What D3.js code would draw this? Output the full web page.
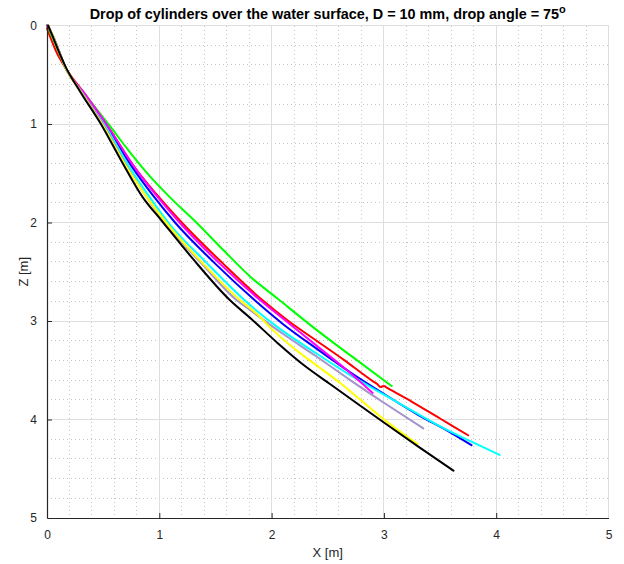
<!DOCTYPE html>
<html>
<head>
<meta charset="utf-8">
<script src="https://cdn.jsdelivr.net/npm/d3@7"></script>
<style>
  html, body { margin: 0; padding: 0; background: #fff; }
  svg { display: block; font-family: "Liberation Sans", Arial, sans-serif; }
</style>
</head>
<body>
<svg id="chart" width="624" height="564"></svg>
<script>
// Trajectories of dropped cylinders: horizontal drift X [m] vs depth Z [m]
const xTicks = [0, 1, 2, 3, 4, 5];
const zTicks = [0, 1, 2, 3, 4, 5];

const red = [[0,0.03],[0.03,0.12],[0.08,0.26],[0.17,0.44],[0.34,0.7],[0.54,1.02],[0.78,1.44],[0.98,1.72],[1.20,2.0],[1.57,2.42],[1.92,2.79],[2.15,3.0],[2.4,3.2],[2.65,3.4],[2.9,3.61],[2.94,3.64],[2.97,3.67],[3.0,3.66],[3.03,3.68],[3.25,3.82],[3.5,3.99],[3.75,4.16]];
const blue = [[0,0],[0.05,0.1],[0.17,0.44],[0.33,0.7],[0.53,1.02],[0.76,1.44],[0.94,1.72],[1.14,2.0],[1.5,2.42],[1.85,2.79],[2.1,3.03],[2.4,3.28],[2.7,3.52],[3.0,3.74],[3.3,3.95],[3.59,4.13],[3.78,4.26]];
const cyan = [[0,0],[0.05,0.1],[0.17,0.44],[0.33,0.7],[0.52,1.02],[0.74,1.45],[0.9,1.72],[1.08,2.0],[1.43,2.42],[1.76,2.79],[2.05,3.06],[2.4,3.33],[2.7,3.55],[2.99,3.74],[3.25,3.91],[3.5,4.07],[3.77,4.22],[4.03,4.36]];
const green = [[0,0],[0.04,0.1],[0.1,0.26],[0.17,0.44],[0.36,0.73],[0.56,1.02],[0.72,1.26],[0.87,1.47],[1.1,1.75],[1.33,2.0],[1.57,2.28],[1.81,2.55],[2.05,2.77],[2.4,3.09],[2.75,3.39],[3.07,3.66]];
const magenta = [[0,0],[0.05,0.1],[0.17,0.44],[0.34,0.7],[0.54,1.02],[0.78,1.44],[0.97,1.72],[1.18,2.0],[1.55,2.43],[1.90,2.79],[2.15,3.02],[2.4,3.25],[2.65,3.48],[2.90,3.73]];
const purple = [[0.01,0],[0.05,0.1],[0.17,0.44],[0.32,0.69],[0.51,1.02],[0.72,1.45],[0.88,1.73],[1.05,2.0],[1.38,2.42],[1.69,2.79],[1.81,2.89],[2.1,3.13],[2.4,3.36],[2.7,3.6],[3.0,3.83],[3.35,4.09]];
const yellow = [[0.01,0],[0.05,0.1],[0.17,0.44],[0.31,0.69],[0.5,1.02],[0.72,1.46],[0.88,1.73],[1.06,2.0],[1.4,2.43],[1.72,2.79],[1.87,2.93],[2.0,3.08],[2.2,3.28],[2.4,3.45],[2.6,3.62],[2.79,3.8],[2.99,3.99],[3.3,4.25]];
const black = [[0.01,0],[0.04,0.08],[0.1,0.25],[0.17,0.43],[0.3,0.68],[0.48,1.0],[0.66,1.37],[0.85,1.74],[1.02,1.98],[1.3,2.37],[1.63,2.79],[1.82,2.98],[2.05,3.22],[2.3,3.46],[2.52,3.64],[2.79,3.86],[3.0,4.03],[3.3,4.27],[3.62,4.52]];

const series = [
  { data: red, color: "#ff0000" },
  { data: blue, color: "#0000ff" },
  { data: cyan, color: "#00ffff" },
  { data: green, color: "#00ff00" },
  { data: magenta, color: "#ff00ff" },
  { data: purple, color: "#a593cc" },
  { data: yellow, color: "#ffff00" },
  { data: black, color: "#000000" }
];

const W = 624, H = 564;
const margin = { left: 47, right: 15.5, top: 25.5, bottom: 46 };
const iw = W - margin.left - margin.right;
const ih = H - margin.top - margin.bottom;

const svg = d3.select("#chart");
svg.append("rect").attr("width", W).attr("height", H).attr("fill", "#fff");

const g = svg.append("g").attr("transform", `translate(${margin.left},${margin.top})`);

const x = d3.scaleLinear().domain([0, 5]).range([0, iw]);
const z = d3.scaleLinear().domain([0, 5]).range([0, ih]);

// minor grid (dotted)
const minor = d3.range(0, 5.0001, 0.2).filter(v => Math.abs(v - Math.round(v)) > 1e-6);
g.append("g").selectAll("line").data(minor).join("line")
  .attr("x1", d => x(d)).attr("x2", d => x(d)).attr("y1", 0).attr("y2", ih)
  .attr("stroke", "#c4c4c4").attr("stroke-width", 1).attr("stroke-dasharray", "1,3")
  .attr("shape-rendering", "crispEdges");
g.append("g").selectAll("line").data(minor).join("line")
  .attr("y1", d => z(d)).attr("y2", d => z(d)).attr("x1", 0).attr("x2", iw)
  .attr("stroke", "#c4c4c4").attr("stroke-width", 1).attr("stroke-dasharray", "1,3")
  .attr("shape-rendering", "crispEdges");

// major grid
g.append("g").selectAll("line").data(xTicks).join("line")
  .attr("x1", d => x(d)).attr("x2", d => x(d)).attr("y1", 0).attr("y2", ih)
  .attr("stroke", "#dedede").attr("stroke-width", 1).attr("shape-rendering", "crispEdges");
g.append("g").selectAll("line").data(zTicks).join("line")
  .attr("y1", d => z(d)).attr("y2", d => z(d)).attr("x1", 0).attr("x2", iw)
  .attr("stroke", "#dedede").attr("stroke-width", 1).attr("shape-rendering", "crispEdges");

// trajectories
const line = d3.line().x(d => x(d[0])).y(d => z(d[1])).curve(d3.curveMonotoneX);
g.append("g").selectAll("path").data(series).join("path")
  .attr("d", d => line(d.data))
  .attr("fill", "none")
  .attr("stroke", d => d.color)
  .attr("stroke-width", 2)
  .attr("stroke-linejoin", "round")
  .attr("stroke-linecap", "round");

// axes (inward ticks)
const xAxis = d3.axisBottom(x).tickValues(xTicks).tickFormat(d3.format("d")).tickSizeInner(-5).tickSizeOuter(0).tickPadding(12);
const zAxis = d3.axisLeft(z).tickValues(zTicks).tickFormat(d3.format("d")).tickSizeInner(-5).tickSizeOuter(0).tickPadding(10);

const gx = g.append("g").attr("transform", `translate(0,${ih})`).call(xAxis);
const gz = g.append("g").call(zAxis);
[gx, gz].forEach(a => {
  a.select(".domain").attr("stroke", "#262626").attr("stroke-width", 1.2);
  a.selectAll(".tick line").attr("stroke", "#262626");
  a.selectAll(".tick text").attr("fill", "#262626").style("font-size", "12px")
    .style("font-family", "'Liberation Sans', Arial, sans-serif");
});
gx.selectAll(".tick").filter(d => d === 0 || d === 5).select("line").remove();
gz.selectAll(".tick").filter(d => d === 0 || d === 5).select("line").remove();

// axis labels
svg.append("text")
  .attr("x", margin.left + iw / 2).attr("y", 557)
  .attr("text-anchor", "middle").attr("fill", "#262626")
  .style("font-size", "13px").text("X [m]");
svg.append("text")
  .attr("transform", `translate(28,${margin.top + ih / 2}) rotate(-90)`)
  .attr("text-anchor", "middle").attr("fill", "#262626")
  .style("font-size", "13px").text("Z [m]");

// title
const title = svg.append("text")
  .attr("x", margin.left + iw / 2).attr("y", 19)
  .attr("text-anchor", "middle").attr("fill", "#000")
  .style("font-size", "14.4px").style("font-weight", "bold");
title.append("tspan").text("Drop of cylinders over the water surface, D = 10 mm, drop angle = 75");
title.append("tspan").attr("dy", -6).style("font-size", "11px").text("o");
</script>
</body>
</html>
